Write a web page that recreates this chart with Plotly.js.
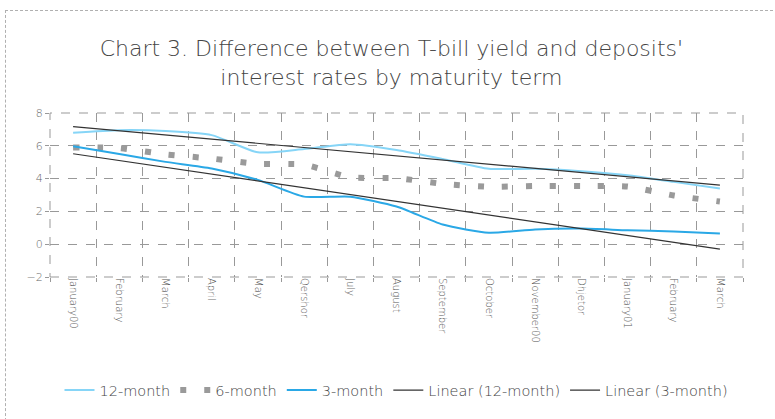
<!DOCTYPE html>
<html>
<head>
<meta charset="utf-8">
<script src="https://cdn.plot.ly/plotly-3.0.1.min.js"></script>
<style>
  html, body { margin: 0; padding: 0; background: #fff; }
  #wrap { position: relative; width: 775px; height: 419px; }
  #chart { width: 775px; height: 419px; }
  #frame { position: absolute; left: 5px; top: 10px; width: 767px; height: 420px;
           border-top: 1px dashed #b0b0b0; border-left: 1px dashed #b0b0b0; pointer-events: none; }
</style>
</head>
<body>
<div id="wrap">
  <div id="chart"></div>
  <div id="frame"></div>
</div>
<script>
// ---- data ----
const months = ["January00", "February", "March", "April", "May", "Qershor", "July", "August",
                "September", "October", "November00", "Dhjetor", "January01", "February", "March"];
const m12 = [6.8, 6.95, 6.9, 6.65, 5.6, 5.8, 6.1, 5.75, 5.2, 4.6, 4.6, 4.45, 4.2, 3.8, 3.4];
const m6  = [5.9, 5.86, 5.48, 5.22, 4.9, 4.85, 4.08, 4.03, 3.68, 3.5, 3.55, 3.55, 3.52, 2.97, 2.6];
const m3  = [5.97, 5.5, 5.02, 4.62, 3.92, 2.9, 2.9, 2.3, 1.2, 0.7, 0.9, 0.95, 0.85, 0.78, 0.65];
const yTicks = [-2, 0, 2, 4, 6, 8];

// ---- helpers ----
const xs = months.map((_, i) => i);
function linfit(y) {
  const n = y.length;
  const mx = xs.reduce((a, b) => a + b, 0) / n;
  const my = y.reduce((a, b) => a + b, 0) / n;
  let sxy = 0, sxx = 0;
  for (let i = 0; i < n; i++) { sxy += (xs[i] - mx) * (y[i] - my); sxx += (xs[i] - mx) ** 2; }
  const b = sxy / sxx, a = my - b * mx;
  return xs.map(x => a + b * x);
}

const traces = [
  { x: xs, y: m12, name: "12-month", mode: "lines",
    line: { color: "#86d5f7", width: 2, shape: "spline", smoothing: 0.6 } },
  { x: xs, y: m6, name: "6-month", mode: "lines",
    line: { color: "#9a9a9a", width: 6, dash: "6px,18px", shape: "spline", smoothing: 0.6 } },
  { x: xs, y: m3, name: "3-month", mode: "lines",
    line: { color: "#2aa8e6", width: 2, shape: "spline", smoothing: 0.6 } },
  { x: xs, y: linfit(m12), name: "Linear (12-month)", mode: "lines",
    line: { color: "#333333", width: 1.2 } },
  { x: xs, y: linfit(m3), name: "Linear (3-month)", mode: "lines",
    line: { color: "#333333", width: 1.2 } }
];

const FONT = "DejaVu Sans, sans-serif";
const layout = {
  width: 775, height: 419,
  margin: { l: 50, r: 32, t: 113, b: 142, autoexpand: false },
  paper_bgcolor: "#ffffff", plot_bgcolor: "#ffffff",
  font: { family: FONT, color: "#555", weight: 200 },
  title: {
    text: "Chart 3. Difference between T-bill yield and deposits'<br>interest rates by maturity term",
    font: { family: FONT, size: 22, color: "#444", weight: 200 },
    x: 0.505, xanchor: "center", y: 0.866, yanchor: "middle"
  },
  xaxis: {
    range: [-0.5, 14.5], tickmode: "array", tickvals: xs, ticktext: months,
    tickangle: 90, showgrid: false, zeroline: false, ticks: "",
    tickfont: { size: 10, color: "#555", weight: 200 },
    minor: { tick0: -0.5, dtick: 1, showgrid: true, gridcolor: "#999", griddash: "dash",
             gridwidth: 1, ticks: "outside", ticklen: 4, tickcolor: "#999" }
  },
  yaxis: {
    range: [-2, 8], tickmode: "array", tickvals: yTicks,
    showgrid: true, gridcolor: "#999", griddash: "dash", gridwidth: 1,
    zeroline: false, ticks: "outside", ticklen: 4, tickcolor: "#999",
    tickfont: { size: 11, color: "#666", weight: 200 }
  },
  shapes: [
    { type: "rect", xref: "paper", yref: "paper", x0: 0, x1: 1, y0: 0, y1: 1,
      line: { color: "#999", width: 1, dash: "dash" } }
  ],
  showlegend: true,
  legend: {
    orientation: "h", x: 0.5, xanchor: "center", y: -0.69, yanchor: "middle",
    font: { size: 14.5, color: "#444", weight: 200 }, itemwidth: 30, tracegroupgap: 0
  }
};

Plotly.newPlot("chart", traces, layout, { displayModeBar: false, staticPlot: true });
</script>
</body>
</html>
